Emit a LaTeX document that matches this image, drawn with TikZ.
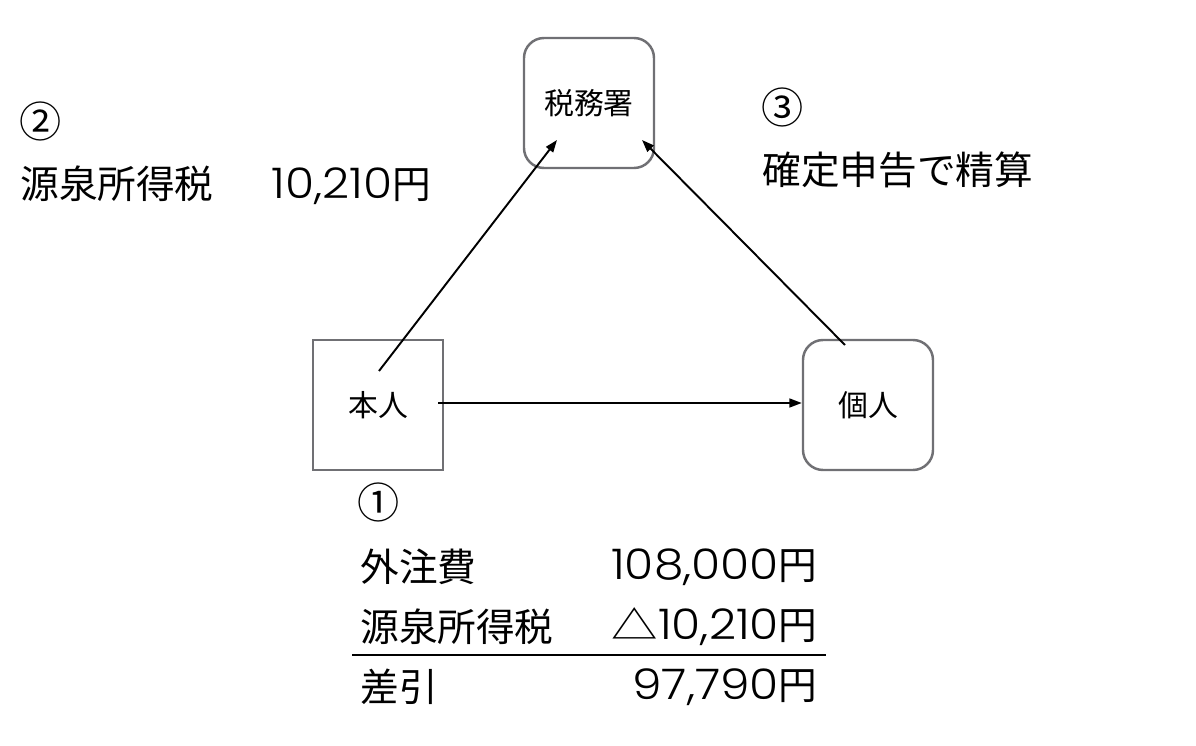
\documentclass[tikz,border=0pt]{standalone}
\usepackage{fontspec}
\setmainfont{Noto Sans CJK JP}
\newfontfamily\digitfont[Numbers=Monospaced, FakeStretch=1.12]{Poppins Light}
\newcommand{\amount}[1]{{\digitfont\fontsize{24}{26}\selectfont #1}}
\usepackage{tikz}
\definecolor{boxgray}{RGB}{112, 112, 116}
\usetikzlibrary{arrows.meta, positioning, calc}

\begin{document}
\begin{tikzpicture}[
    box/.style={draw=boxgray, line width=1.4pt, fill=white,
                minimum width=2.6cm, minimum height=2.6cm, align=center,
                font=\fontsize{17}{20}\selectfont},
    roundbox/.style={box, rounded corners=0.4cm},
    label/.style={inner sep=0pt, font=\fontsize{22}{26}\selectfont},
    marker/.style={label, font=\fontsize{24}{26}\selectfont},
    arrow/.style={-{Triangle[length=7pt, width=5pt]}, line width=1.1pt, black}
]
    \useasboundingbox (0,0) rectangle (23.92,14.92);

    \node[roundbox] (zeimu) at (11.78,12.86) {税務署};
    \node[box] (honnin) at (7.56,6.82) {本人};
    \node[roundbox] (kojin) at (17.36,6.82) {個人};

    \draw[arrow] ($(honnin.center)+(0.02,0.68)$) -- ($(zeimu.center)+(-0.64,-0.74)$);
    \draw[arrow] ($(kojin.center)+(-0.46,1.2)$) -- ($(zeimu.center)+(1.06,-0.74)$);
    \draw[arrow] ($(honnin.east)+(-0.12,0.04)$) -- ($(kojin.west)+(0,0.04)$);

    % step 2
    \node[marker, anchor=west] (n2) at (0.38,12.5) {②};
    \node[label, anchor=west] (gensen) at (0.4,11.22) {源泉所得税　\hspace{0.5em}\amount{10,210}円};

    % step 3
    \node[marker, anchor=west] (n3) at (15.22,12.78) {③};
    \node[label, anchor=west] (kakutei) at (15.24,11.52) {確定申告で精算};

    % step 1
    \node[marker, anchor=west] (n1) at (7.14,4.88) {①};
    \node[label, anchor=west] (gaichu) at (7.2,3.58) {外注費};
    \node[label, anchor=east] (gaichuval) at (16.36,3.58) {\amount{108,000}円};
    \node[label, anchor=west] (tax) at (7.2,2.38) {源泉所得税};
    \node[label, anchor=east] (taxval) at (16.36,2.38) {\scalebox{1.2}[1]{△}\amount{10,210}円};
    \node[label, anchor=west] (sa) at (7.2,1.18) {差引};
    \node[label, anchor=east] (saval) at (16.36,1.18) {\amount{97,790}円};
    \draw[line width=1.1pt] (7.04,1.82) -- (16.52,1.82);
\end{tikzpicture}
\end{document}
